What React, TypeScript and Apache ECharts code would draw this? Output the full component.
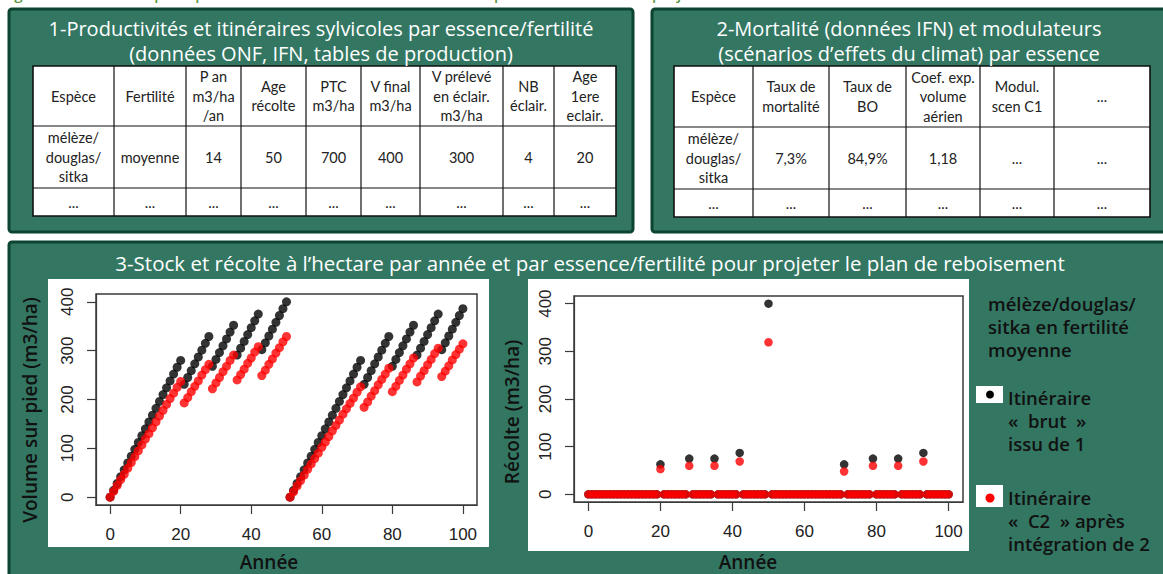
import React, { useEffect, useRef } from "react";
import * as echarts from "echarts";

// ---------- DATA ----------
const years = [
  0, 1, 2, 3, 4, 5, 6, 7, 8, 9, 10, 11, 12, 13, 14, 15, 16, 17, 18, 19,
  20, 21, 22, 23, 24, 25, 26, 27, 28, 29, 30, 31, 32, 33, 34, 35, 36, 37, 38, 39,
  40, 41, 42, 43, 44, 45, 46, 47, 48, 49, 50, 51, 52, 53, 54, 55, 56, 57, 58, 59,
  60, 61, 62, 63, 64, 65, 66, 67, 68, 69, 70, 71, 72, 73, 74, 75, 76, 77, 78, 79,
  80, 81, 82, 83, 84, 85, 86, 87, 88, 89, 90, 91, 92, 93, 94, 95, 96, 97, 98, 99, 100,
];

// Volume sur pied - itinéraire "brut"
const stockBrut = [
  0, 14, 28, 42, 56, 70, 84, 98, 112, 126, 140, 154, 168, 182, 196, 210, 224, 238, 252, 266, 280,
  231, 245, 259, 273, 287, 301, 315, 329,
  268, 282, 296, 310, 324, 338, 352,
  291, 305, 319, 333, 347, 361, 375,
  302, 316, 330, 344, 358, 372, 386, 400,
  0, 14, 28, 42, 56, 70, 84, 98, 112, 126, 140, 154, 168, 182, 196, 210, 224, 238, 252, 266, 280,
  231, 245, 259, 273, 287, 301, 315, 329,
  268, 282, 296, 310, 324, 338, 352,
  291, 305, 319, 333, 347, 361, 375,
  302, 316, 330, 344, 358, 372, 386,
];

// Volume sur pied - itinéraire "C2"
const stockC2 = [
  0, 12, 24, 36, 47, 59, 71, 83, 95, 107, 119, 130, 142, 154, 166, 178, 190, 202, 213, 225, 237,
  193, 204, 216, 227, 238, 250, 261, 272,
  222, 234, 245, 257, 268, 280, 291,
  240, 251, 262, 274, 285, 297, 308,
  249, 260, 272, 283, 295, 306, 318, 329,
  0, 11, 23, 34, 45, 57, 68, 79, 90, 102, 113, 124, 136, 147, 158, 170, 181, 192, 203, 215, 226,
  184, 195, 207, 218, 230, 241, 252, 264,
  216, 227, 239, 250, 262, 273, 285,
  236, 248, 259, 271, 282, 294, 305,
  247, 258, 269, 281, 292, 303, 314,
];

// Récolte - itinéraire "brut"
const harvestBrut = [
  0, 0, 0, 0, 0, 0, 0, 0, 0, 0,
  0, 0, 0, 0, 0, 0, 0, 0, 0, 0,
  63, 0, 0, 0, 0, 0, 0, 0, 75, 0,
  0, 0, 0, 0, 0, 75, 0, 0, 0, 0,
  0, 0, 87, 0, 0, 0, 0, 0, 0, 0,
  400, 0, 0, 0, 0, 0, 0, 0, 0, 0,
  0, 0, 0, 0, 0, 0, 0, 0, 0, 0,
  0, 63, 0, 0, 0, 0, 0, 0, 0, 75,
  0, 0, 0, 0, 0, 0, 75, 0, 0, 0,
  0, 0, 0, 87, 0, 0, 0, 0, 0, 0,
  0,
];

// Récolte - itinéraire "C2"
const harvestC2 = [
  0, 0, 0, 0, 0, 0, 0, 0, 0, 0,
  0, 0, 0, 0, 0, 0, 0, 0, 0, 0,
  53, 0, 0, 0, 0, 0, 0, 0, 60, 0,
  0, 0, 0, 0, 0, 60, 0, 0, 0, 0,
  0, 0, 69, 0, 0, 0, 0, 0, 0, 0,
  319, 0, 0, 0, 0, 0, 0, 0, 0, 0,
  0, 0, 0, 0, 0, 0, 0, 0, 0, 0,
  0, 48, 0, 0, 0, 0, 0, 0, 0, 60,
  0, 0, 0, 0, 0, 0, 60, 0, 0, 0,
  0, 0, 0, 69, 0, 0, 0, 0, 0, 0,
  0,
];

const xTicks = [0, 20, 40, 60, 80, 100];
const yTicks = [0, 100, 200, 300, 400];

const topCaption =
  "Figure 4 : Schéma de principe des données mobilisées et des calculs pour le bilan carbone projeté";
const panel1Title = ["1-Productivités et itinéraires sylvicoles par essence/fertilité", "(données ONF, IFN, tables de production)"];
const panel2Title = ["2-Mortalité (données IFN) et modulateurs", "(scénarios d’effets du climat) par essence"];
const panel3Title = "3-Stock et récolte à l’hectare par année et par essence/fertilité pour projeter le plan de reboisement";

const table1Header = ["Espèce", "Fertilité", "P an\nm3/ha\n/an", "Age\nrécolte", "PTC\nm3/ha", "V final\nm3/ha", "V prélevé\nen éclair.\nm3/ha", "NB\néclair.", "Age\n1ere\neclair."];
const table1Row = ["mélèze/\ndouglas/\nsitka", "moyenne", "14", "50", "700", "400", "300", "4", "20"];
const table1Dots = ["...", "...", "...", "...", "...", "...", "...", "...", "..."];

const table2Header = ["Espèce", "Taux de\nmortalité", "Taux de\nBO", "Coef. exp.\nvolume\naérien", "Modul.\nscen C1", "..."];
const table2Row = ["mélèze/\ndouglas/\nsitka", "7,3%", "84,9%", "1,18", "...", "..."];
const table2Dots = ["...", "...", "...", "...", "...", "..."];

const speciesLegend = ["mélèze/douglas/", "sitka en fertilité", "moyenne"];
const brutLegend = ["Itinéraire", "«  brut  »", "issu de 1"];
const c2Legend = ["Itinéraire", "«  C2  » après", "intégration de 2"];

const xTitle = "Année";
const yTitleLeft = "Volume sur pied (m3/ha)";
const yTitleRight = "Récolte (m3/ha)";

// ---------- STYLE ----------
const PANEL_FILL = "#337763";
const PANEL_STROKE = "#0b4430";
const TITLE_FONT = "'Open Sans', 'Noto Sans', sans-serif";
const TABLE_FONT = "Lato, 'Liberation Sans', sans-serif";
const R_FONT = "'Liberation Sans', Arial, sans-serif";

function buildTable(cols: number[], rows: number[], cells: string[][]) {
  const els: any[] = [];
  els.push({
    type: "rect",
    z: -10,
    shape: { x: cols[0], y: rows[0], width: cols[cols.length - 1] - cols[0], height: rows[rows.length - 1] - rows[0] },
    style: { fill: "#ffffff", stroke: "#111", lineWidth: 1.6 },
  });
  for (let i = 1; i < rows.length - 1; i++) {
    els.push({ type: "line", z: -9, shape: { x1: cols[0], y1: rows[i], x2: cols[cols.length - 1], y2: rows[i] }, style: { stroke: "#111", lineWidth: 1.2 } });
  }
  for (let j = 1; j < cols.length - 1; j++) {
    els.push({ type: "line", z: -9, shape: { x1: cols[j], y1: rows[0], x2: cols[j], y2: rows[rows.length - 1] }, style: { stroke: "#111", lineWidth: 1.2 } });
  }
  cells.forEach((row, r) => {
    row.forEach((txt, c) => {
      els.push({
        type: "text",
        z: -8,
        x: (cols[c] + cols[c + 1]) / 2,
        y: (rows[r] + rows[r + 1]) / 2,
        style: {
          text: txt,
          align: "center",
          verticalAlign: "middle",
          fontSize: 14.5,
          lineHeight: 19.5,
          fontFamily: TABLE_FONT,
          fill: "#222",
        },
      });
    });
  });
  return els;
}

function textLines(lines: string[], x: number, y0: number, dy: number, opts: any) {
  return lines.map((t, i) => ({
    type: "text",
    z: 5,
    x,
    y: y0 + i * dy,
    style: { text: t, verticalAlign: "middle", ...opts },
  }));
}

function axisX(gridIndex: number) {
  return {
    type: "value",
    gridIndex,
    min: -4,
    max: 104,
    axisLine: { show: true, onZero: false, lineStyle: { color: "#3a3a3a", width: 1.2 } },
    axisTick: { show: true, length: 9, inside: false, customValues: xTicks, lineStyle: { color: "#3a3a3a", width: 1.2 } },
    axisLabel: { customValues: xTicks, fontSize: 17, fontFamily: R_FONT, color: "#222", margin: 21 },
    splitLine: { show: false },
  };
}

function axisY(gridIndex: number) {
  return {
    type: "value",
    gridIndex,
    min: -16,
    max: 416,
    axisLine: { show: true, onZero: false, lineStyle: { color: "#3a3a3a", width: 1.2 } },
    axisTick: { show: true, length: 9, inside: false, customValues: yTicks, lineStyle: { color: "#3a3a3a", width: 1.2 } },
    axisLabel: { customValues: yTicks, fontSize: 17, fontFamily: R_FONT, color: "#222", margin: 20, rotate: 90 },
    splitLine: { show: false },
  };
}

export default function App() {
  const ref = useRef<HTMLDivElement>(null);

  useEffect(() => {
    if (!ref.current) return;
    const chart = echarts.init(ref.current, null, { renderer: "svg" });

    const titleStyle = { align: "center", fontSize: 20, lineHeight: 22, fontFamily: TITLE_FONT, fill: "#ffffff" };
    const legendStyle = { align: "left", fontSize: 18.5, fontWeight: 600, fontFamily: TITLE_FONT, fill: "#111" };
    const axisTitleStyle = { align: "center", verticalAlign: "middle", fontSize: 19, fontWeight: 600, fontFamily: TITLE_FONT, fill: "#111" };

    const graphics: any[] = [
      {
        type: "text",
        z: 5,
        x: 2,
        y: -14,
        style: { text: topCaption, fontSize: 15, fontFamily: TITLE_FONT, fontWeight: 600, fill: "#5e9a46" },
      },
      // panels
      { type: "rect", z: -20, shape: { x: 9, y: 9, width: 624, height: 223, r: 3 }, style: { fill: PANEL_FILL, stroke: PANEL_STROKE, lineWidth: 3 } },
      { type: "rect", z: -20, shape: { x: 652, y: 9, width: 530, height: 223, r: 3 }, style: { fill: PANEL_FILL, stroke: PANEL_STROKE, lineWidth: 3 } },
      { type: "rect", z: -20, shape: { x: 9, y: 242, width: 1175, height: 350, r: 3 }, style: { fill: PANEL_FILL, stroke: PANEL_STROKE, lineWidth: 3 } },
      // plot backgrounds
      { type: "rect", z: -15, shape: { x: 48, y: 279, width: 441, height: 268 }, style: { fill: "#ffffff" } },
      { type: "rect", z: -15, shape: { x: 528, y: 279, width: 441, height: 272 }, style: { fill: "#ffffff" } },
      // titles
      ...textLines(panel1Title, 321, 28, 25, titleStyle),
      ...textLines(panel2Title, 909, 28, 25, titleStyle),
      ...textLines([panel3Title], 590, 263, 0, { ...titleStyle, fontSize: 20.5 }),
      // tables
      ...buildTable([33, 114, 186, 241, 306, 361, 420, 503, 554, 616], [66, 126, 188, 216], [table1Header, table1Row, table1Dots]),
      ...buildTable([674, 753, 829, 906, 980, 1054, 1150], [66, 127, 189, 217], [table2Header, table2Row, table2Dots]),
      // axis titles
      { type: "text", z: 5, x: 30, y: 410, rotation: Math.PI / 2, style: { text: yTitleLeft, ...axisTitleStyle } },
      { type: "text", z: 5, x: 512, y: 412, rotation: Math.PI / 2, style: { text: yTitleRight, ...axisTitleStyle } },
      { type: "text", z: 5, x: 269, y: 562, style: { text: xTitle, ...axisTitleStyle } },
      { type: "text", z: 5, x: 748, y: 562, style: { text: xTitle, ...axisTitleStyle } },
      // right legend
      ...textLines(speciesLegend, 988, 303, 23, legendStyle),
      { type: "rect", z: 5, shape: { x: 976, y: 386, width: 27, height: 17 }, style: { fill: "#ffffff" } },
      { type: "circle", z: 6, shape: { cx: 990, cy: 394.5, r: 4 }, style: { fill: "#000000" } },
      ...textLines(brutLegend, 1008, 397, 23, legendStyle),
      { type: "rect", z: 5, shape: { x: 976, y: 485, width: 27, height: 22 }, style: { fill: "#ffffff" } },
      { type: "circle", z: 6, shape: { cx: 990, cy: 498, r: 4.5 }, style: { fill: "#ff0000" } },
      ...textLines(c2Legend, 1008, 497, 23, legendStyle),
    ];

    const option: any = {
      animation: false,
      backgroundColor: "#ffffff",
      graphic: { elements: graphics },
      grid: [
        { left: 96, top: 294, width: 381, height: 211, show: true, backgroundColor: "transparent", borderColor: "#3a3a3a", borderWidth: 1.5 },
        { left: 574, top: 296, width: 389, height: 206, show: true, backgroundColor: "transparent", borderColor: "#3a3a3a", borderWidth: 1.5 },
      ],
      xAxis: [axisX(0), axisX(1)],
      yAxis: [axisY(0), axisY(1)],
      series: [
        {
          type: "scatter", xAxisIndex: 0, yAxisIndex: 0, symbolSize: 9, silent: true,
          itemStyle: { color: "#000000" }, emphasis: { disabled: true },
          data: years.map((y, i) => [y, stockBrut[i]]),
        },
        {
          type: "scatter", xAxisIndex: 0, yAxisIndex: 0, symbolSize: 9, silent: true,
          itemStyle: { color: "#ff0000" }, emphasis: { disabled: true },
          data: years.map((y, i) => [y, stockC2[i]]),
        },
        {
          type: "scatter", xAxisIndex: 1, yAxisIndex: 1, symbolSize: 8.5, silent: true,
          itemStyle: { color: "#000000" }, emphasis: { disabled: true },
          data: years.map((y, i) => [y, harvestBrut[i]]),
        },
        {
          type: "scatter", xAxisIndex: 1, yAxisIndex: 1, symbolSize: 8.5, silent: true,
          itemStyle: { color: "#ff0000" }, emphasis: { disabled: true },
          data: years.map((y, i) => [y, harvestC2[i]]),
        },
      ],
    };

    chart.setOption(option);
    return () => chart.dispose();
  }, []);

  return <div ref={ref} style={{ position: "absolute", left: 0, top: 0, width: 1163, height: 574 }} />;
}
